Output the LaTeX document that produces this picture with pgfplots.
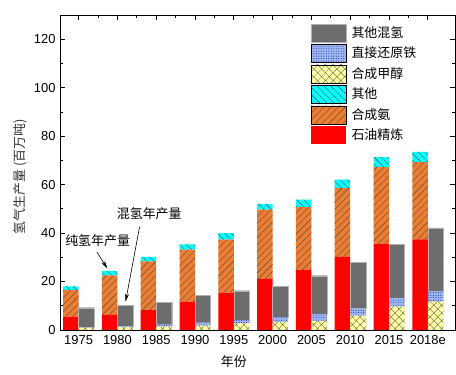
\documentclass[border=0pt]{standalone}
\usepackage{pgfplots}
\pgfplotsset{compat=1.18}
\usepackage{pgfplotstable}
\usetikzlibrary{patterns.meta, arrows.meta}
\usepackage{fontspec}
\setmainfont{Liberation Sans}
\newfontfamily\cjk{Noto Sans CJK SC}

\definecolor{cRed}{RGB}{255,0,0}
\definecolor{cOrange}{RGB}{237,125,49}
\definecolor{cCyan}{RGB}{0,255,255}
\definecolor{cYellow}{RGB}{255,255,160}
\definecolor{cBlue}{RGB}{155,182,240}
\definecolor{cGray}{RGB}{108,108,108}

\tikzset{
 sRed/.style={fill=cRed, draw=none},
 sOrange/.style={fill=cOrange, draw=none, postaction={pattern={Lines[angle=45,distance=5pt,line width=0.4pt]}, pattern color=black!70}},
 sCyan/.style={fill=cCyan, draw=none, postaction={pattern={Lines[angle=-45,distance=5pt,line width=0.4pt]}, pattern color=black!70}},
 sYellow/.style={fill=cYellow, draw=none, postaction={pattern={Hatch[angle=45,distance=5.5pt,line width=0.35pt]}, pattern color=black!65}},
 sBlue/.style={fill=cBlue, draw=none, postaction={pattern={Dots[distance=2.5pt,radius=0.45pt]}, pattern color=blue!60!black}},
 sGray/.style={fill=cGray, draw=gray!60, line width=0.3pt, postaction={pattern={Dots[distance=1.4pt,radius=0.35pt]}, pattern color=black!55}},
}

\pgfplotstableread{
x red orange cyan yellow blue gray
0 5.5 11.0 1.5 1.0 0.2 8.0
1 6.2 16.3 1.9 1.2 0.4 8.6
2 8.2 20.1 1.9 1.4 0.8 9.2
3 11.7 21.5 2.1 1.8 1.2 11.3
4 15.4 21.9 2.7 2.7 1.4 12.1
5 21.1 28.6 2.4 3.4 1.9 12.7
6 24.7 26.0 3.1 3.8 2.7 15.9
7 30.2 28.5 3.4 5.9 3.0 19.0
8 35.4 31.8 4.1 9.6 3.7 22.1
9 37.4 31.9 4.2 11.7 4.2 26.2
}\datatable

\pgfplotsset{
 common/.style={
  scale only axis, width=395bp, height=315bp,
  xmin=-0.48, xmax=9.7, ymin=0, ymax=130,
  ybar stacked, bar width=0.4,
 },
}

\begin{document}
\fontsize{13}{15.6}\selectfont
\begin{tikzpicture}
\begin{axis}[common, hide axis, bar shift=-0.2]
 \addplot[sRed] table[x=x, y=red] {\datatable};
 \addplot[sOrange] table[x=x, y=orange] {\datatable};
 \addplot[sCyan] table[x=x, y=cyan] {\datatable};
\end{axis}
\begin{axis}[common, name=ax2, bar shift=0.2,
  font=\fontsize{13}{15.6}\selectfont,
  axis line style={line width=0.9pt},
  /pgf/number format/assume math mode=true,
  xtick={0,...,9},
  xticklabels={1975,1980,1985,1990,1995,2000,2005,2010,2015,2018e},
  xtick pos=upper, xticklabel pos=lower,
  minor x tick num=1,
  ytick={0,20,...,120}, minor y tick num=1,
  ytick pos=both, yticklabel pos=left,
  tick align=inside,
  major tick length=5bp, minor tick length=3bp,
  tick style={line width=0.8pt, black},
  xticklabel style={yshift=-1bp},
  xlabel={\cjk 年份},
  xlabel style={at={(axis description cs:0.44,-0.1)}, anchor=center},
  ylabel={\cjk 氢气生产量 (百万吨)},
  ylabel style={at={(axis description cs:-0.1,0.487)}, anchor=center, text=black!80},
  legend style={at={(axis description cs:0.634,0.972)}, anchor=north west, draw=none, fill=none,
    inner sep=0pt, row sep=2bp, font=\cjk\fontsize{13}{15.6}\selectfont, cells={anchor=west},
    nodes={inner sep=1.5pt},
    /tikz/every odd column/.append style={column sep=4bp}},
 ]
 \addplot[sYellow, forget plot] table[x=x, y=yellow] {\datatable};
 \addplot[sBlue, forget plot] table[x=x, y=blue] {\datatable};
 \addplot[sGray, forget plot] table[x=x, y=gray] {\datatable};
 \addlegendimage{legend image code/.code={\path[sGray] (0bp,-9bp) rectangle (35bp,9bp);}}
 \addlegendentry{其他混氢}
 \addlegendimage{legend image code/.code={\path[sBlue] (0bp,-9bp) rectangle (35bp,9bp);}}
 \addlegendentry{直接还原铁}
 \addlegendimage{legend image code/.code={\path[sYellow] (0bp,-9bp) rectangle (35bp,9bp);}}
 \addlegendentry{合成甲醇}
 \addlegendimage{legend image code/.code={\path[sCyan] (0bp,-9bp) rectangle (35bp,9bp);}}
 \addlegendentry{其他}
 \addlegendimage{legend image code/.code={\path[sOrange] (0bp,-9bp) rectangle (35bp,9bp);}}
 \addlegendentry{合成氨}
 \addlegendimage{legend image code/.code={\path[sRed] (0bp,-9bp) rectangle (35bp,9bp);}}
 \addlegendentry{石油精炼}
 \node[font=\cjk\fontsize{13}{15.6}\selectfont, anchor=center] at (axis cs:0.49,36.7) {纯氢年产量};
 \draw[line width=0.6pt, -{Stealth[length=8pt,width=4pt]}] (axis cs:0.47,32.2) -- (axis cs:0.74,25.4);
 \node[font=\cjk\fontsize{13}{15.6}\selectfont, anchor=center] at (axis cs:1.82,48.0) {混氢年产量};
 \draw[line width=0.6pt, -{Stealth[length=8pt,width=4pt]}] (axis cs:1.57,42.5) -- (axis cs:1.21,11.7);
\end{axis}
\path (ax2.south west) ++(-60bp,-45bp) rectangle ++(456bp,375bp);
\end{tikzpicture}
\end{document}
